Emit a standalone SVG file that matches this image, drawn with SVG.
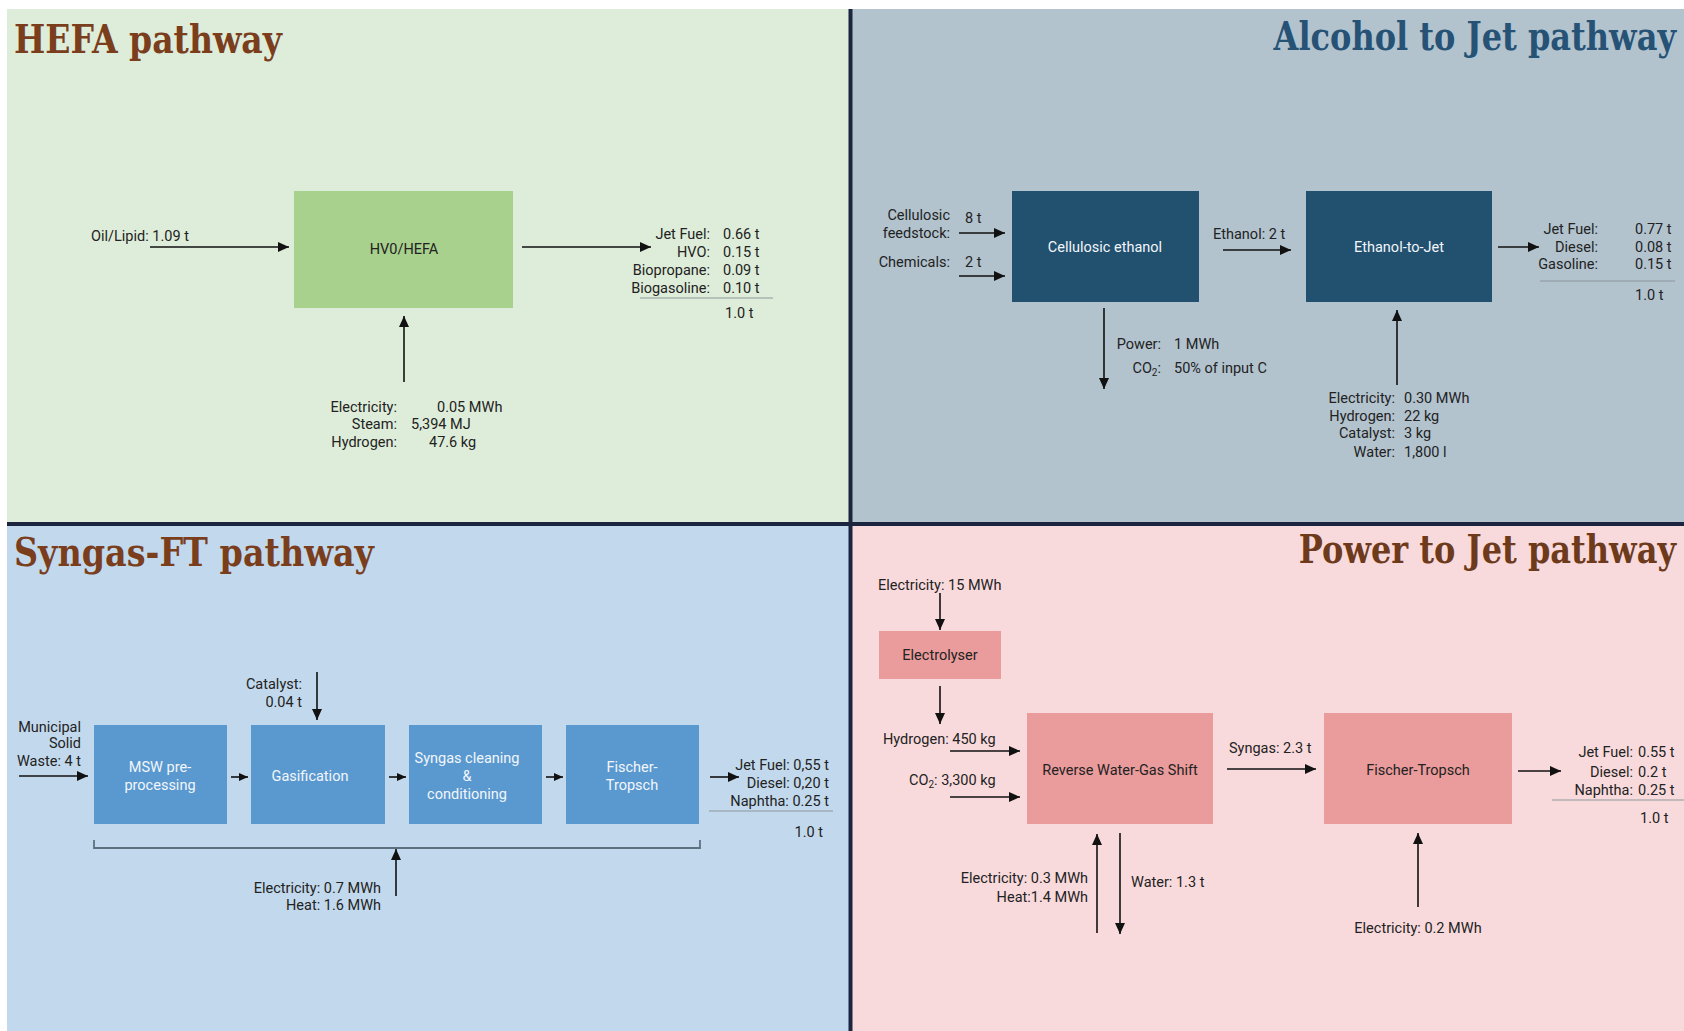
<svg xmlns="http://www.w3.org/2000/svg" width="1684" height="1031" viewBox="0 0 1684 1031">
<defs>
<marker id="ah" markerUnits="userSpaceOnUse" markerWidth="12" markerHeight="10" refX="11" refY="5" orient="auto">
<path d="M0,0 L11,5 L0,10 z" fill="#111"/>
</marker>
<marker id="ahs" markerUnits="userSpaceOnUse" markerWidth="10" markerHeight="10" refX="9" refY="5" orient="auto">
<path d="M0,1 L9,5 L0,9 z" fill="#111"/>
</marker>
<style>
.t{font-family:Roboto,"Liberation Sans",Arial,sans-serif;font-size:14.5px;fill:#222}
.e{text-anchor:end}
.m{text-anchor:middle}
.w{fill:#f2f6fa}
.title{font-family:"DejaVu Serif","Liberation Serif",serif;font-weight:bold;font-size:40px}
.c{stroke:#111;stroke-width:1.6;fill:none;marker-end:url(#ah)}
.cs{stroke:#111;stroke-width:1.6;fill:none;marker-end:url(#ahs)}
.rule{stroke:#8e969c;stroke-width:1.2}
</style>
</defs>
<rect x="0" y="0" width="1684" height="1031" fill="#ffffff"/>
<g id="panels">
<rect x="7" y="9" width="844" height="515" fill="#deedd9"/>
<rect x="851" y="9" width="833" height="515" fill="#b2c3ce"/>
<rect x="7" y="524" width="844" height="507" fill="#c2d9ed"/>
<rect x="851" y="524" width="833" height="507" fill="#f9dadc"/>
<line x1="850.5" y1="9" x2="850.5" y2="1031" stroke="#1b2540" stroke-width="4"/>
<line x1="7" y1="524" x2="1684" y2="524" stroke="#1b2540" stroke-width="4"/>
</g>
<g id="titles">
<text class="title" x="14" y="53" fill="#7a3e1d" textLength="268" lengthAdjust="spacingAndGlyphs">HEFA pathway</text>
<text class="title" transform="translate(1676,50) scale(0.80,1)" x="0" y="0" fill="#265276" text-anchor="end">Alcohol to Jet pathway</text>
<text class="title" x="14" y="566" fill="#7a3e1d" textLength="360" lengthAdjust="spacingAndGlyphs">Syngas-FT pathway</text>
<text class="title" transform="translate(1676,563) scale(0.80,1)" x="0" y="0" fill="#6e3a1c" text-anchor="end">Power to Jet pathway</text>
</g>
<g id="connectors">
<line class="c" x1="150" y1="247" x2="289" y2="247"/>
<line class="c" x1="522" y1="247" x2="651" y2="247"/>
<line class="c" x1="404" y1="382" x2="404" y2="316"/>
<line class="c" x1="959" y1="233" x2="1005" y2="233"/>
<line class="c" x1="959" y1="276" x2="1005" y2="276"/>
<line class="c" x1="1223" y1="250" x2="1291" y2="250"/>
<line class="c" x1="1498" y1="247" x2="1539" y2="247"/>
<line class="c" x1="1104" y1="308" x2="1104" y2="389"/>
<line class="c" x1="1397" y1="385" x2="1397" y2="310"/>
<line class="c" x1="19" y1="776" x2="88" y2="776"/>
<line class="cs" x1="231" y1="777" x2="248" y2="777"/>
<line class="cs" x1="389" y1="777" x2="406" y2="777"/>
<line class="cs" x1="546" y1="777" x2="563" y2="777"/>
<line class="c" x1="317" y1="672" x2="317" y2="720"/>
<line class="c" x1="710" y1="777" x2="739" y2="777"/>
<path d="M94,840 V848 H700 V840" stroke="#5c7080" stroke-width="1.8" fill="none"/>
<line class="c" x1="396" y1="896" x2="396" y2="849"/>
<line class="c" x1="940" y1="593" x2="940" y2="630"/>
<line class="c" x1="940" y1="686" x2="940" y2="724"/>
<line class="c" x1="950" y1="751" x2="1020" y2="751"/>
<line class="c" x1="950" y1="797" x2="1020" y2="797"/>
<line class="c" x1="1227" y1="769" x2="1316" y2="769"/>
<line class="c" x1="1518" y1="771" x2="1561" y2="771"/>
<line class="c" x1="1097" y1="933" x2="1097" y2="834"/>
<line class="c" x1="1120" y1="833" x2="1120" y2="934"/>
<line class="c" x1="1418" y1="907" x2="1418" y2="833"/>
</g>
<g id="hefa-inputs">
<text class="t" x="91" y="241">Oil/Lipid: 1.09 t</text>
<text class="t e" x="397" y="412">Electricity:</text>
<text class="t" x="437" y="412">0.05 MWh</text>
<text class="t e" x="397" y="429">Steam:</text>
<text class="t" x="411" y="429">5,394 MJ</text>
<text class="t e" x="397" y="447">Hydrogen:</text>
<text class="t" x="429" y="447">47.6 kg</text>
</g>
<g id="hefa-box">
<rect x="294" y="191" width="219" height="117" fill="#a9d18e"/>
<text class="t m" x="404" y="254">HV0/HEFA</text>
</g>
<g id="hefa-outputs">
<text class="t e" x="710" y="239">Jet Fuel:</text><text class="t" x="723" y="239">0.66 t</text>
<text class="t e" x="710" y="257">HVO:</text><text class="t" x="723" y="257">0.15 t</text>
<text class="t e" x="710" y="275">Biopropane:</text><text class="t" x="723" y="275">0.09 t</text>
<text class="t e" x="710" y="293">Biogasoline:</text><text class="t" x="723" y="293">0.10 t</text>
<line class="rule" x1="640" y1="298" x2="773" y2="298"/>
<text class="t" x="725" y="318">1.0 t</text>
</g>
<g id="atj-inputs">
<text class="t e" x="950" y="220">Cellulosic</text>
<text class="t e" x="950" y="238">feedstock:</text>
<text class="t" x="965" y="223">8 t</text>
<text class="t e" x="950" y="267">Chemicals:</text>
<text class="t" x="965" y="267">2 t</text>
</g>
<g id="atj-cellulosic-ethanol">
<rect x="1012" y="191" width="187" height="111" fill="#22506f"/>
<text class="t m w" x="1105" y="252">Cellulosic ethanol</text>
</g>
<g id="atj-ethanol-label">
<text class="t" x="1213" y="239">Ethanol: 2 t</text>
</g>
<g id="atj-ethanol-to-jet">
<rect x="1306" y="191" width="186" height="111" fill="#22506f"/>
<text class="t m w" x="1399" y="252">Ethanol-to-Jet</text>
</g>
<g id="atj-byproducts">
<text class="t e" x="1161" y="349">Power:</text>
<text class="t" x="1174" y="349">1 MWh</text>
<text class="t e" x="1161" y="373">CO<tspan font-size="10" dy="3">2</tspan><tspan dy="-3">:</tspan></text>
<text class="t" x="1174" y="373">50% of input C</text>
</g>
<g id="atj-utilities">
<text class="t e" x="1395" y="403">Electricity:</text><text class="t" x="1404" y="403">0.30 MWh</text>
<text class="t e" x="1395" y="421">Hydrogen:</text><text class="t" x="1404" y="421">22 kg</text>
<text class="t e" x="1395" y="438">Catalyst:</text><text class="t" x="1404" y="438">3 kg</text>
<text class="t e" x="1395" y="457">Water:</text><text class="t" x="1404" y="457">1,800 l</text>
</g>
<g id="atj-outputs">
<text class="t e" x="1598" y="234">Jet Fuel:</text><text class="t" x="1635" y="234">0.77 t</text>
<text class="t e" x="1598" y="252">Diesel:</text><text class="t" x="1635" y="252">0.08 t</text>
<text class="t e" x="1598" y="269">Gasoline:</text><text class="t" x="1635" y="269">0.15 t</text>
<line class="rule" x1="1540" y1="281" x2="1675" y2="281"/>
<text class="t" x="1635" y="300">1.0 t</text>
</g>
<g id="ft-inputs">
<text class="t e" x="81" y="732">Municipal</text>
<text class="t e" x="81" y="748">Solid</text>
<text class="t e" x="81" y="766">Waste: 4 t</text>
<text class="t e" x="302" y="689">Catalyst:</text>
<text class="t e" x="302" y="707">0.04 t</text>
<text class="t e" x="381" y="893">Electricity: 0.7 MWh</text>
<text class="t e" x="381" y="910">Heat: 1.6 MWh</text>
</g>
<g id="ft-msw">
<rect x="94" y="725" width="133" height="99" fill="#5a99d0"/>
<text class="t m w" x="160" y="772">MSW pre-</text>
<text class="t m w" x="160" y="790">processing</text>
</g>
<g id="ft-gasification">
<rect x="251" y="725" width="134" height="99" fill="#5a99d0"/>
<text class="t m w" x="310" y="781">Gasification</text>
</g>
<g id="ft-cleaning">
<rect x="409" y="725" width="133" height="99" fill="#5a99d0"/>
<text class="t m w" x="467" y="763">Syngas cleaning</text>
<text class="t m w" x="467" y="781">&amp;</text>
<text class="t m w" x="467" y="799">conditioning</text>
</g>
<g id="ft-fischer">
<rect x="566" y="725" width="133" height="99" fill="#5a99d0"/>
<text class="t m w" x="632" y="772">Fischer-</text>
<text class="t m w" x="632" y="790">Tropsch</text>
</g>
<g id="ft-outputs">
<text class="t e" x="829" y="770">Jet Fuel: 0,55 t</text>
<text class="t e" x="829" y="788">Diesel: 0,20 t</text>
<text class="t e" x="829" y="806">Naphtha: 0.25 t</text>
<line class="rule" x1="709" y1="811" x2="833" y2="811"/>
<text class="t e" x="823" y="837">1.0 t</text>
</g>
<g id="ptj-inputs">
<text class="t" x="878" y="590">Electricity: 15 MWh</text>
<text class="t" x="883" y="744">Hydrogen: 450 kg</text>
<text class="t" x="909" y="785">CO<tspan font-size="10" dy="3">2</tspan><tspan dy="-3">: 3,300 kg</tspan></text>
<text class="t e" x="1088" y="883">Electricity: 0.3 MWh</text>
<text class="t e" x="1088" y="902">Heat:1.4 MWh</text>
<text class="t" x="1131" y="887">Water: 1.3 t</text>
<text class="t" x="1229" y="753">Syngas: 2.3 t</text>
<text class="t m" x="1418" y="933">Electricity: 0.2 MWh</text>
</g>
<g id="ptj-electrolyser">
<rect x="879" y="631" width="122" height="48" fill="#ea9b9b"/>
<text class="t m" x="940" y="660">Electrolyser</text>
</g>
<g id="ptj-rwgs">
<rect x="1027" y="713" width="186" height="111" fill="#ea9b9b"/>
<text class="t m" x="1120" y="775">Reverse Water-Gas Shift</text>
</g>
<g id="ptj-ft">
<rect x="1324" y="713" width="188" height="111" fill="#ea9b9b"/>
<text class="t m" x="1418" y="775">Fischer-Tropsch</text>
</g>
<g id="ptj-outputs">
<text class="t e" x="1633" y="757">Jet Fuel:</text><text class="t" x="1638" y="757">0.55 t</text>
<text class="t e" x="1633" y="777">Diesel:</text><text class="t" x="1638" y="777">0.2 t</text>
<text class="t e" x="1633" y="795">Naphtha:</text><text class="t" x="1638" y="795">0.25 t</text>
<line class="rule" x1="1552" y1="800" x2="1684" y2="800"/>
<text class="t" x="1640" y="823">1.0 t</text>
</g>
</svg>
